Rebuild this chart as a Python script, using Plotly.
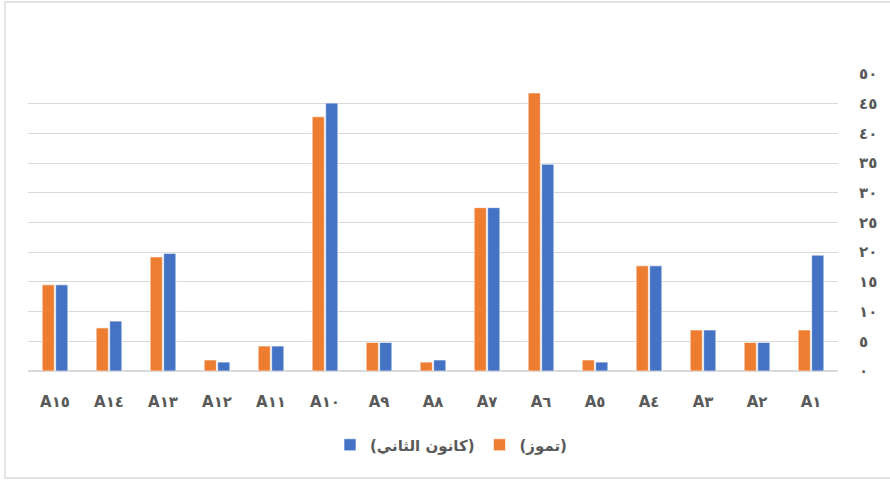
import plotly.graph_objects as go

categories = ["A١", "A٢", "A٣", "A٤", "A٥", "A٦", "A٧", "A٨", "A٩", "A١٠",
              "A١١", "A١٢", "A١٣", "A١٤", "A١٥"]
july = [6.9, 4.8, 6.9, 17.7, 1.85, 46.8, 27.5, 1.5, 4.8, 42.8, 4.2, 1.85, 19.2, 7.25, 14.5]
january = [19.5, 4.8, 6.9, 17.7, 1.5, 34.8, 27.5, 1.85, 4.8, 45.1, 4.2, 1.5, 19.8, 8.4, 14.5]
y_tickvals = [0, 5, 10, 15, 20, 25, 30, 35, 40, 45, 50]
y_ticktext = ["٠", "٥", "١٠", "١٥", "٢٠", "٢٥", "٣٠", "٣٥", "٤٠", "٤٥", "٥٠"]
name_jan = "(كانون الثاني)"
name_jul = "(تموز)"

FONT = "DejaVu Sans"
GRAY = "#595959"

fig = go.Figure()
fig.add_trace(go.Bar(x=categories, y=january, name=name_jan,
                     marker=dict(color="#4472C4", line=dict(color="white", width=0.6))))
fig.add_trace(go.Bar(x=categories, y=july, name=name_jul,
                     marker=dict(color="#ED7D31", line=dict(color="white", width=0.6))))

L, R, T, B = 28, 52, 74, 110
W, H = 890, 481
pw = W - L - R
ph = H - T - B

fig.update_layout(
    width=W, height=H,
    margin=dict(l=L, r=R, t=T, b=B),
    paper_bgcolor="white", plot_bgcolor="white",
    barmode="group", bargap=0.5, bargroupgap=0.1,
    font=dict(family=FONT, color=GRAY, size=13),
    showlegend=True,
    legend=dict(orientation="h", x=(330 - L) / pw, xanchor="left",
                y=(H - B - 445) / ph, yanchor="middle",
                font=dict(family=FONT, size=15, color=GRAY, weight="bold"),
                traceorder="normal", itemwidth=30),
    xaxis=dict(autorange="reversed", showgrid=False, showline=False,
               ticks="outside", ticklen=17, tickcolor="rgba(0,0,0,0)",
               tickfont=dict(family=FONT, size=15, color=GRAY, weight="bold")),
    yaxis=dict(side="right", range=[0, 50], tickvals=y_tickvals, ticktext=y_ticktext,
               showgrid=True, gridcolor="#D9D9D9", gridwidth=1.3,
               zeroline=True, zerolinecolor="#D9D9D9", zerolinewidth=1.5,
               ticks="outside", ticklen=17, tickcolor="rgba(0,0,0,0)",
               tickfont=dict(family=FONT, size=15, color=GRAY, weight="bold")),
    shapes=[dict(type="rect", xref="paper", yref="paper",
                 x0=(5 - L) / pw, x1=(900 - L) / pw,
                 y0=(H - B - 478) / ph, y1=(H - B - 2) / ph,
                 line=dict(color="#D9D9D9", width=1.3), fillcolor="rgba(0,0,0,0)",
                 layer="below")],
)

fig.write_html("out.html")
